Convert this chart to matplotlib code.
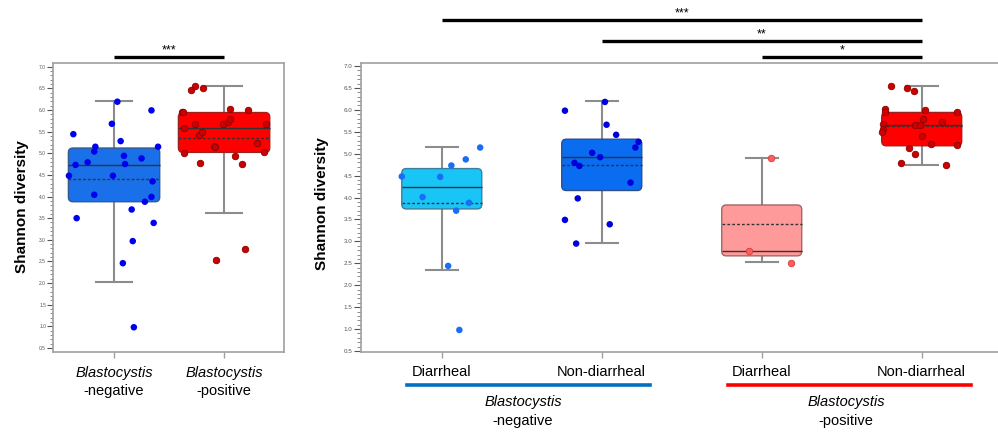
import numpy as np
import matplotlib
matplotlib.use("Agg")
import matplotlib.pyplot as plt
from matplotlib.patches import FancyBboxPatch
from matplotlib.ticker import MultipleLocator, FormatStrFormatter

plt.rcParams['font.family'] = ['Liberation Sans', 'DejaVu Sans']

# ---- pooled groups (left panel) ----
neg_all = [5.44, 4.73, 4.48, 3.50, 4.79, 5.04, 5.15, 4.04, 5.68, 4.48, 6.19, 5.28, 4.94,
           4.75, 3.70, 2.97, 2.46, 0.98, 4.88, 3.88, 5.99, 3.99, 4.35, 3.39, 5.15]
neg_all_dx = [-0.37, -0.35, -0.41, -0.34, -0.24, -0.18, -0.17, -0.18, -0.02, -0.01, 0.03, 0.06, 0.09,
              0.10, 0.16, 0.17, 0.08, 0.18, 0.25, 0.28, 0.34, 0.34, 0.35, 0.36, 0.40]
pos_all = [6.45, 6.56, 6.50, 5.95, 5.95, 5.58, 5.68, 5.42, 5.49, 5.00, 4.78, 5.17, 5.14,
           5.68, 5.73, 5.78, 6.03, 4.93, 4.75, 6.01, 5.23, 5.02, 5.68, 2.53, 2.79]
pos_all_dx = [-0.30, -0.26, -0.19, -0.38, -0.37, -0.36, -0.26, -0.23, -0.20, -0.36, -0.22, -0.09, -0.08,
              -0.01, 0.04, 0.05, 0.05, 0.10, 0.16, 0.22, 0.30, 0.36, 0.38, -0.07, 0.19]
left_names = [("Blastocystis", "-negative"), ("Blastocystis", "-positive")]
left_q1 = [3.88, 5.02]
left_q3 = [5.12, 5.94]
left_lo = [2.02, 3.62]
left_hi = [6.20, 6.55]

# ---- split by diarrhea status (right panel) ----
neg_diar = [4.48, 4.01, 4.47, 4.73, 4.87, 5.14, 3.70, 3.88, 2.44, 0.98]
neg_diar_dx = [-0.25, -0.12, -0.01, 0.06, 0.15, 0.24, 0.09, 0.17, 0.04, 0.11]
neg_nondiar = [5.98, 6.18, 5.66, 5.43, 5.02, 4.92, 4.79, 4.72, 5.14, 5.27, 3.98, 4.34, 3.49, 3.39, 2.95]
neg_nondiar_dx = [-0.23, 0.02, 0.03, 0.09, -0.06, -0.01, -0.17, -0.14, 0.21, 0.23, -0.15, 0.18, -0.23, 0.05, -0.16]
pos_diar = [4.91, 2.79, 2.51]
pos_diar_dx = [0.06, -0.08, 0.18]
pos_nondiar = [6.54, 6.49, 6.43, 6.02, 5.95, 5.99, 5.94, 5.19, 5.78, 5.73, 5.68, 5.65, 5.65,
               5.57, 5.49, 5.40, 5.23, 5.14, 5.00, 4.78, 4.74]
pos_nondiar_dx = [-0.19, -0.09, -0.05, -0.23, -0.23, 0.02, 0.22, 0.22, 0.01, 0.13, -0.24, -0.04, -0.01,
                  -0.24, -0.25, 0.00, 0.06, -0.08, -0.04, -0.13, 0.15]
right_ticks = ["Diarrheal", "Non-diarrheal", "Diarrheal", "Non-diarrheal"]
right_q1 = [3.74, 4.16, 2.67, 5.18]
right_q3 = [4.66, 5.33, 3.83, 5.94]
right_lo = [2.35, 2.96, 2.52, 4.74]
right_hi = [5.15, 6.19, 4.91, 6.54]

# significance brackets: (start, end, label)
left_sig = [(0, 1, "***")]
right_sig = [(0, 3, "***"), (1, 3, "**"), (2, 3, "*")]

fig = plt.figure(figsize=(9.98, 4.34), dpi=100)
axL = fig.add_axes([0.0531, 0.1896, 0.2315, 0.666])
axR = fig.add_axes([0.3617, 0.1896, 0.6428, 0.666])

GRAY = "#a0a0a0"


def style_axis(ax, xlim, ylim, fs, majlen, minlen):
    ax.set_xlim(*xlim)
    ax.set_ylim(*ylim)
    for s in ax.spines.values():
        s.set_color(GRAY)
        s.set_linewidth(1.2)
    ax.yaxis.set_major_locator(MultipleLocator(0.5))
    ax.yaxis.set_minor_locator(MultipleLocator(0.1))
    ax.yaxis.set_major_formatter(FormatStrFormatter("%.1f"))
    ax.tick_params(axis="y", which="major", length=majlen, width=0.8, color="#555555",
                   labelsize=fs, labelcolor="#555555", pad=1)
    ax.tick_params(axis="y", which="minor", length=minlen, width=0.6, color="#777777")
    ax.tick_params(axis="x", length=4, width=1, color=GRAY, labelbottom=False)


def draw_boxes(ax, groups, q1, q3, lo, hi, width, capw, faces, edges, pts, pedges, psize):
    ax.figure.canvas.draw()
    bb = ax.get_window_extent()
    x0, x1 = ax.get_xlim()
    y0, y1 = ax.get_ylim()
    aspect = ((y1 - y0) / bb.height) / ((x1 - x0) / bb.width)
    r = 4.5 * (x1 - x0) / bb.width
    stats = []
    for i, (vals, dx) in enumerate(groups):
        stats.append(dict(med=np.median(vals), q1=q1[i], q3=q3[i], whislo=lo[i], whishi=hi[i],
                          mean=np.mean(vals), fliers=[]))
    ax.bxp(stats, positions=range(len(groups)), widths=width, showbox=False, showmeans=True,
           meanline=True, showfliers=False, capwidths=capw, manage_ticks=False,
           whiskerprops=dict(color="#8c8c8c", lw=1.5),
           capprops=dict(color="#8c8c8c", lw=1.5),
           medianprops=dict(color="#333333", lw=1.0, zorder=4),
           meanprops=dict(color="#333333", lw=1.0, linestyle=(0, (2, 1.5)), zorder=4))
    for i, (vals, dx) in enumerate(groups):
        box = FancyBboxPatch((i - width / 2, q1[i]), width, q3[i] - q1[i],
                             boxstyle=f"round,pad=0,rounding_size={r}", mutation_aspect=aspect,
                             facecolor=faces[i], edgecolor=edges[i], lw=1.0, zorder=3)
        ax.add_patch(box)
        ax.scatter(np.array(dx) + i, vals, s=psize, color=pts[i], edgecolors=pedges[i],
                   linewidths=0.6, zorder=5)
    ax.set_xticks(range(len(groups)))


def brackets(ax, sigs, ys, fs):
    for (a, b, lab), y in zip(sigs, ys):
        ax.plot([a, b], [y, y], color="black", lw=2.4, clip_on=False, solid_capstyle="butt")
        ax.text((a + b) / 2, y + 0.02, lab, ha="center", va="bottom", fontsize=fs, clip_on=False)


# left panel
style_axis(axL, (-0.555, 1.545), (0.415, 7.092), 3.5, 4, 2)
draw_boxes(axL, [(neg_all, neg_all_dx), (pos_all, pos_all_dx)], left_q1, left_q3, left_lo, left_hi,
           0.83, 0.33, ["#1a70e8", "#ff0000"], ["#35598f", "#a02020"],
           ["#0000ee", "#cc0000"], ["none", "#8a0000"], 22)
brackets(axL, left_sig, [7.22], 9)
for i, (top, bottom) in enumerate(left_names):
    axL.text(i, -0.075, top, style="italic", fontsize=10.5, ha="center", va="center",
             transform=axL.get_xaxis_transform())
    axL.text(i, -0.136, bottom, fontsize=10.5, ha="center", va="center",
             transform=axL.get_xaxis_transform())

# right panel
style_axis(axR, (-0.505, 3.505), (0.484, 7.075), 4.5, 5, 3)
draw_boxes(axR, [(neg_diar, neg_diar_dx), (neg_nondiar, neg_nondiar_dx),
                 (pos_diar, pos_diar_dx), (pos_nondiar, pos_nondiar_dx)],
           right_q1, right_q3, right_lo, right_hi, 0.5, 0.2,
           ["#19c4f7", "#0a6cf0", "#ff9a9a", "#ff0000"],
           ["#3d7f9a", "#2c4f8a", "#a06868", "#a02020"],
           ["#1a6ef5", "#0000dd", "#ff5c5c", "#cc0000"],
           ["none", "none", "#d04040", "#880000"], 22)
brackets(axR, right_sig, [8.05, 7.57, 7.205], 9)
xt = axR.get_xaxis_transform()
for i, lab in enumerate(right_ticks):
    axR.text(i, -0.07, lab, fontsize=10.5, ha="center", va="center", transform=xt)
axR.plot([-0.217, 1.302], [-0.115, -0.115], color="#0070c0", lw=2.6, transform=xt, clip_on=False)
axR.plot([1.792, 3.311], [-0.115, -0.115], color="#ff0000", lw=2.6, transform=xt, clip_on=False)
for xc, sub in [(0.507, "-negative"), (2.526, "-positive")]:
    axR.text(xc, -0.175, "Blastocystis", style="italic", fontsize=10.5, ha="center", va="center",
             transform=xt)
    axR.text(xc, -0.240, sub, fontsize=10.5, ha="center", va="center", transform=xt)

fig.text(22 / 998, 1 - 207 / 434, "Shannon diversity", rotation=90, fontsize=11,
         fontweight="bold", ha="center", va="center")
fig.text(322 / 998, 1 - 204 / 434, "Shannon diversity", rotation=90, fontsize=11,
         fontweight="bold", ha="center", va="center")

fig.savefig("out.png", dpi=100)
